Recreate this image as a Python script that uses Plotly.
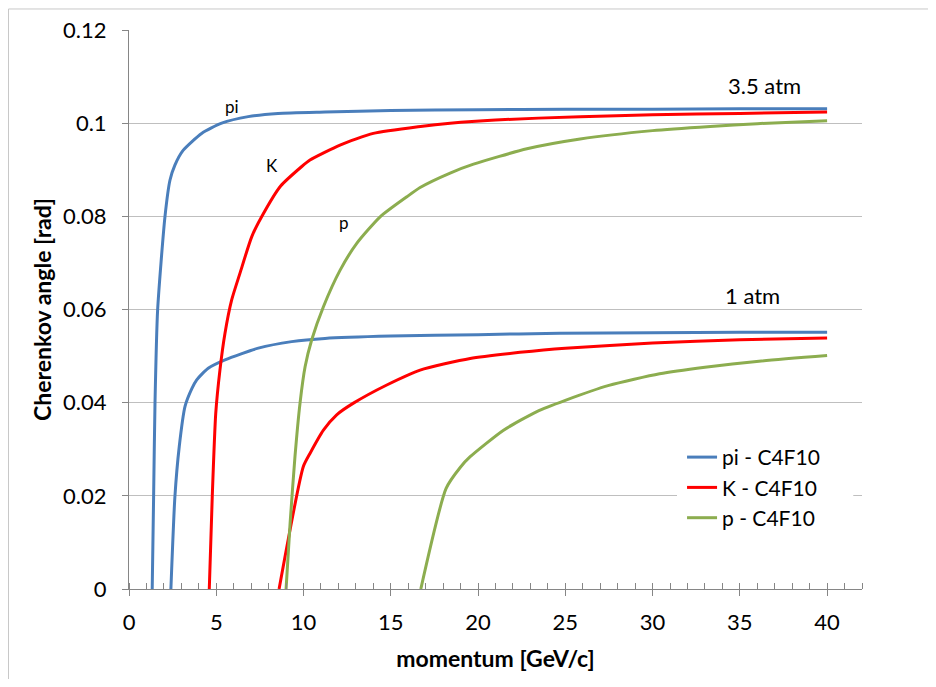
import plotly.graph_objects as go

# ---- data (momentum GeV/c, Cherenkov angle rad) ----
pi_35_x = [1.33, 1.41, 1.49, 1.64, 2.06, 2.35, 2.63, 3.11, 4.16, 5.31, 6.83, 8.54, 11.23, 15.0, 20.0, 25.0, 30.0, 35.0, 40.0]
pi_35_y = [0.0, 0.0198, 0.0399, 0.0599, 0.0799, 0.0878, 0.0910, 0.0942, 0.0978, 0.1000, 0.1014, 0.1021, 0.1024, 0.1027, 0.1029, 0.1030, 0.1030, 0.1031, 0.1031]

pi_1_x = [2.40, 2.63, 2.88, 3.21, 3.60, 3.88, 4.54, 5.50, 7.41, 9.32, 11.23, 15.0, 20.0, 24.67, 30.0, 35.0, 40.0]
pi_1_y = [0.0, 0.0198, 0.0306, 0.0392, 0.0430, 0.0449, 0.0474, 0.0492, 0.0517, 0.0531, 0.0538, 0.0543, 0.0546, 0.0549, 0.0550, 0.0551, 0.0551]

k_35_x = [4.60, 4.77, 4.97, 5.21, 5.50, 5.88, 6.36, 7.03, 7.60, 8.69, 9.90, 10.37, 12.09, 14.0, 16.7, 18.4, 21.0, 25.85, 30.0, 35.0, 40.0]
k_35_y = [0.0, 0.0198, 0.0377, 0.0470, 0.0549, 0.0620, 0.0678, 0.0756, 0.0799, 0.0865, 0.0907, 0.0921, 0.0953, 0.0978, 0.0993, 0.1000, 0.1007, 0.1014, 0.1018, 0.1021, 0.1024]

k_1_x = [8.60, 9.99, 10.37, 11.14, 11.90, 12.86, 14.77, 16.68, 19.55, 22.4, 25.0, 30.0, 35.0, 40.0]
k_1_y = [0.0, 0.0263, 0.0291, 0.0341, 0.0374, 0.0399, 0.0438, 0.0470, 0.0495, 0.0508, 0.0517, 0.0528, 0.0535, 0.0539]

p_35_x = [9.00, 9.23, 9.51, 9.80, 10.09, 10.47, 11.14, 12.09, 13.05, 14.39, 15.92, 16.68, 18.4, 19.74, 22.8, 25.85, 30.0, 33.3, 36.0, 40.0]
p_35_y = [0.0, 0.0141, 0.0284, 0.0399, 0.0477, 0.0535, 0.0606, 0.0684, 0.0742, 0.0799, 0.0842, 0.0862, 0.0893, 0.0912, 0.0945, 0.0966, 0.0984, 0.0993, 0.0999, 0.1005]

p_1_x = [16.72, 18.17, 19.0, 19.55, 21.46, 23.37, 25.0, 27.5, 30.4, 33.0, 36.1, 40.0]
p_1_y = [0.0, 0.0216, 0.0262, 0.0284, 0.0341, 0.0381, 0.0405, 0.0437, 0.0462, 0.0476, 0.0489, 0.0501]

series_names = ["pi - C4F10", "K - C4F10", "p - C4F10"]
series_colors = ["#4a7ebb", "#ff0000", "#8cad4f"]

curve_labels = ["pi", "K", "p"]
curve_label_x = [5.9, 8.2, 12.33]
curve_label_y = [0.1035, 0.0910, 0.0786]
pressure_labels = ["3.5 atm", "1 atm"]
pressure_label_x = [36.4, 35.7]
pressure_label_y = [0.1080, 0.0629]

FONT = "Lato, 'Open Sans', sans-serif"
AXC = "#868686"
GRID = "#bfbfbf"

fig = go.Figure()
data = [
    (pi_35_x, pi_35_y, pi_1_x, pi_1_y),
    (k_35_x, k_35_y, k_1_x, k_1_y),
    (p_35_x, p_35_y, p_1_x, p_1_y),
]
for i, (x35, y35, x1, y1) in enumerate(data):
    fig.add_trace(go.Scatter(x=x35, y=y35, mode="lines", name=series_names[i],
                             legendgroup=series_names[i], showlegend=True,
                             line=dict(color=series_colors[i], width=3, shape="spline", smoothing=0.6)))
    fig.add_trace(go.Scatter(x=x1, y=y1, mode="lines", name=series_names[i],
                             legendgroup=series_names[i], showlegend=False,
                             line=dict(color=series_colors[i], width=3, shape="spline", smoothing=0.6)))

for t, x, y in zip(curve_labels, curve_label_x, curve_label_y):
    fig.add_annotation(x=x, y=y, text=t, showarrow=False, font=dict(family=FONT, size=17, color="black"))
for t, x, y in zip(pressure_labels, pressure_label_x, pressure_label_y):
    fig.add_annotation(x=x, y=y, text=t, showarrow=False, font=dict(family=FONT, size=22, color="black"))

# white area behind legend (hides gridline as in the reference)
fig.add_shape(type="rect", xref="x", yref="y", x0=31.4, x1=41.5, y0=0.0116, y1=0.0309,
              fillcolor="white", line=dict(width=0), layer="between")
# chart border
fig.add_shape(type="rect", xref="paper", yref="paper", x0=-0.1644, x1=1.097, y0=-0.177, y1=1.0376,
              line=dict(color="#c8c8c8", width=1), fillcolor="rgba(0,0,0,0)", layer="above")

fig.update_layout(
    width=920, height=671,
    margin=dict(l=121, r=66, t=22, b=90, autoexpand=False),
    paper_bgcolor="white", plot_bgcolor="white",
    font=dict(family=FONT, size=22, color="black"),
    showlegend=True,
    legend=dict(x=0.7545, y=0.272, xanchor="left", yanchor="top",
                bgcolor="rgba(0,0,0,0)", borderwidth=0,
                font=dict(family=FONT, size=21, color="black"),
                traceorder="grouped", tracegroupgap=0),
    xaxis=dict(range=[0, 42], dtick=5, tick0=0, showgrid=False, zeroline=False, automargin=False,
               showline=True, linecolor=AXC, linewidth=1,
               ticks="outside", ticklen=6, tickcolor=AXC, tickwidth=1,
               ticklabelstandoff=8,
               minor=dict(dtick=1, tick0=0, ticks="inside", ticklen=6, tickcolor=AXC, showgrid=False),
               title=dict(text="<b>momentum [GeV/c]</b>", font=dict(family=FONT, size=23), standoff=16)),
    xaxis2=dict(range=[0, 42], dtick=5, tick0=0, overlaying="x", anchor="y", side="bottom", automargin=False,
                showgrid=False, zeroline=False, showline=False, showticklabels=False,
                ticks="inside", ticklen=6, tickcolor=AXC, tickwidth=1),
    yaxis=dict(range=[0, 0.12], dtick=0.02, tick0=0, showgrid=True, gridcolor=GRID, gridwidth=1,
               zeroline=False, automargin=False, showline=True, linecolor=AXC, linewidth=1,
               ticks="outside", ticklen=6, tickcolor=AXC, tickwidth=1,
               ticklabelstandoff=11,
               title=dict(text="<b>Cherenkov angle [rad]</b>", font=dict(family=FONT, size=23), standoff=5)),
)
# invisible trace so the overlaid axis (crossing major ticks) is drawn
fig.add_trace(go.Scatter(x=[0], y=[0], xaxis="x2", yaxis="y", mode="markers",
                         marker=dict(opacity=0), showlegend=False, hoverinfo="skip"))

fig.write_html("out.html")
